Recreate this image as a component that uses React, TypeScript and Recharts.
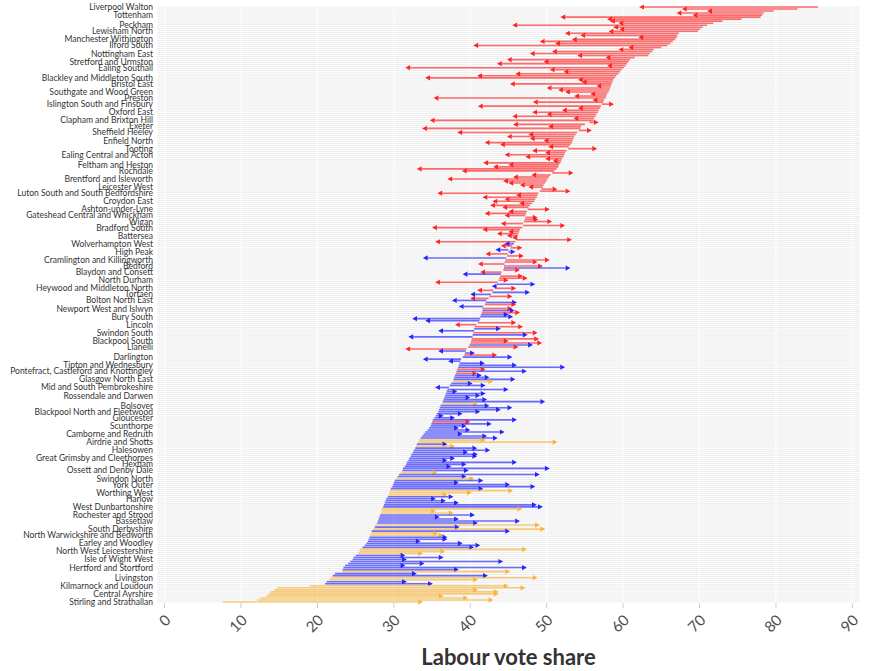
import React from 'react';
import { ComposedChart, Bar, XAxis, YAxis, CartesianGrid } from 'recharts';

// Labour vote share: previous (base) -> new (end) for each constituency row
const baseShare = [
  85.5, 82.8, 79.7, 78.4, 78.2, 78.0, 75.5, 73.0, 71.8, 71.0,
  70.4, 70.1, 69.8, 67.3, 67.1, 67.0, 66.8, 66.5, 66.2, 65.8,
  65.0, 64.0, 63.8, 63.5, 63.3, 61.5, 60.9, 60.7, 60.5, 60.3,
  60.1, 59.8, 59.6, 59.4, 59.1, 58.9, 58.7, 58.6, 58.5, 58.4,
  58.3, 58.2, 58.1, 57.9, 57.8, 57.7, 57.5, 57.4, 57.2, 57.1,
  57.0, 56.8, 56.7, 56.5, 56.4, 56.2, 56.1, 55.6, 55.0, 54.5,
  54.4, 54.2, 54.0, 53.8, 53.6, 53.5, 53.4, 53.3, 53.1, 52.9,
  52.8, 52.6, 52.4, 52.3, 52.2, 52.0, 51.9, 51.8, 51.6, 51.5,
  51.3, 51.0, 50.7, 50.5, 50.3, 50.1, 50.0, 49.8, 49.6, 49.5,
  49.3, 49.1, 48.9, 48.8, 48.7, 48.5, 48.4, 48.1, 47.8, 47.6,
  47.5, 47.4, 47.3, 47.2, 47.2, 47.1, 47.0, 46.9, 46.9, 46.8,
  46.5, 46.4, 46.3, 46.2, 46.1, 46.1, 45.9, 45.7, 45.5, 45.3,
  45.0, 45.0, 44.9, 44.8, 44.7, 44.6, 44.5, 44.5, 44.4, 44.4,
  44.3, 44.1, 44.0, 43.9, 43.8, 43.7, 43.6, 43.5, 43.3, 43.2,
  43.0, 42.9, 42.7, 42.5, 42.4, 42.1, 42.0, 41.9, 41.7, 41.6,
  41.6, 41.5, 41.4, 41.3, 41.3, 41.2, 41.0, 40.8, 40.6, 40.5,
  40.5, 40.4, 40.3, 40.3, 40.2, 40.1, 40.0, 39.9, 39.7, 39.5,
  39.4, 39.3, 39.2, 39.0, 38.8, 38.7, 38.6, 38.5, 38.4, 38.3,
  38.2, 38.1, 38.0, 37.9, 37.8, 37.7, 37.5, 37.3, 37.2, 37.0,
  36.9, 36.8, 36.7, 36.6, 36.5, 36.4, 36.3, 36.1, 36.0, 35.9,
  35.8, 35.6, 35.5, 35.3, 35.1, 35.0, 34.9, 34.8, 34.6, 34.4,
  34.1, 33.9, 33.7, 33.5, 33.3, 33.2, 33.0, 32.9, 32.8, 32.6,
  32.5, 32.3, 32.2, 32.0, 31.9, 31.7, 31.6, 31.4, 31.2, 31.1,
  30.9, 30.7, 30.5, 30.3, 30.1, 30.0, 29.9, 29.8, 29.6, 29.5,
  29.4, 29.3, 29.2, 29.0, 28.9, 28.8, 28.7, 28.6, 28.4, 28.4,
  28.3, 28.2, 28.1, 28.0, 27.9, 27.8, 27.6, 27.5, 27.3, 27.1,
  27.0, 26.9, 26.8, 26.7, 26.6, 26.4, 26.2, 25.9, 25.6, 25.5,
  25.3, 25.0, 24.7, 24.6, 24.3, 24.0, 23.6, 23.4, 23.3, 23.2,
  22.3, 22.0, 21.7, 21.5, 21.2, 21.0, 19.0, 14.7, 14.3, 13.9,
  13.6, 13.3, 12.5, 12.1, 7.6,
];

const newShare = [
  62.1, 67.7, 71.0, 67.0, 69.1, 51.8, 57.9, 58.3, 59.4, 45.5,
  58.7, 59.5, 58.1, 52.4, 54.4, 62.0, 53.3, 49.1, 51.1, 40.4,
  60.7, 59.4, 50.7, 47.8, 54.0, 57.7, 44.8, 49.6, 43.5, 57.9,
  31.5, 50.4, 52.2, 45.9, 40.9, 34.1, 54.1, 54.6, 45.2, 56.5,
  50.0, 51.5, 52.4, 55.7, 53.6, 35.2, 56.0, 48.2, 58.8, 41.0,
  54.1, 52.0, 48.1, 50.0, 45.5, 53.5, 34.7, 56.8, 45.6, 50.2,
  33.7, 55.9, 38.3, 47.6, 44.8, 47.8, 49.6, 41.9, 43.9, 50.2,
  56.6, 48.1, 49.8, 44.5, 47.2, 49.8, 50.8, 41.7, 45.0, 43.0,
  33.0, 38.9, 53.5, 48.0, 45.6, 37.0, 44.3, 45.0, 46.5, 47.6,
  51.4, 53.1, 35.7, 46.0, 41.6, 44.5, 42.9, 46.4, 42.6, 44.2,
  50.4, 45.0, 41.9, 44.5, 48.8, 48.9, 50.7, 44.0, 52.4, 35.0,
  41.6, 45.0, 43.5, 44.8, 45.5, 53.3, 35.4, 44.5, 44.0, 46.8,
  43.3, 45.9, 42.0, 47.0, 33.8, 50.4, 48.8, 41.0, 49.5, 53.1,
  46.5, 41.3, 39.0, 46.9, 47.5, 45.0, 35.4, 48.5, 42.8, 46.0,
  40.9, 47.8, 40.0, 45.5, 40.0, 37.6, 46.1, 46.0, 38.5, 45.5,
  45.8, 46.5, 45.0, 45.6, 32.4, 34.1, 46.0, 38.0, 46.9, 44.0,
  35.8, 48.8, 47.5, 31.9, 49.0, 45.0, 49.4, 48.2, 46.3, 31.5,
  35.8, 40.6, 43.5, 45.5, 33.8, 37.1, 41.9, 46.1, 52.4, 42.0,
  47.4, 40.9, 41.5, 42.5, 45.9, 43.0, 40.3, 42.0, 35.4, 45.0,
  38.3, 42.0, 41.3, 40.0, 42.2, 49.8, 41.0, 42.5, 45.5, 44.0,
  41.3, 39.0, 36.5, 38.0, 46.1, 40.0, 42.8, 39.5, 38.5, 40.0,
  44.5, 39.0, 42.2, 43.6, 42.0, 51.4, 37.0, 38.0, 40.9, 42.6,
  39.7, 41.0, 40.9, 38.0, 37.0, 46.1, 39.5, 37.5, 50.4, 39.8,
  35.7, 49.1, 39.5, 40.5, 41.7, 38.5, 45.2, 48.5, 41.7, 45.6,
  40.2, 37.0, 37.8, 35.5, 36.8, 38.5, 48.7, 49.5, 46.8, 35.5,
  37.8, 40.6, 36.0, 38.5, 46.5, 41.0, 49.1, 38.6, 49.8, 45.2,
  35.8, 36.5, 37.0, 37.0, 33.5, 39.0, 41.3, 40.5, 47.4, 36.7,
  33.8, 31.5, 36.5, 31.7, 44.3, 34.0, 31.5, 47.4, 38.5, 45.2,
  33.0, 42.3, 48.8, 41.0, 31.7, 35.1, 45.0, 47.2, 41.0, 43.7,
  43.7, 36.5, 39.7, 43.0, 33.8,
];

// R = red, B = blue, O = orange
const rowColour = (
  'RRRRRRRRRRRRRRRRRRRRRRRRRRRRRRRRRRRRRRRRRRRRRRRRRR' +
  'RRRRRRRRRRRRRRRRRRRRRRRRRRRRRRRRRRRRRRRRRRRRRRRRRR' +
  'RRRRRRRRRRRRRRRRRBRRBBRRBRRRRBRRBRRRRBBRRBBRRBBRBR' +
  'BRBBBBRRRBBRBBRRRBRRBBRBBBBBBRBRBBBOBBBBBBBBBBOBBB' +
  'BBBBBRBBBBBBBBOOBOBBBBBBBBBBBBOBBOBBBBBOOOBBBBBBOO' +
  'OBBBBBOBOBOOBBBBBBOOOBBBBBBBBOBBOOBBOOOOOOOOO'
).split('');

const tickLabels = [
  'Liverpool Walton', 'Tottenham', 'Peckham', 'Lewisham North', 'Manchester Withington',
  'Ilford South', 'Nottingham East', 'Stretford and Urmston', 'Ealing Southall',
  'Blackley and Middleton South', 'Bristol East', 'Southgate and Wood Green', 'Preston',
  'Islington South and Finsbury', 'Oxford East', 'Clapham and Brixton Hill', 'Exeter',
  'Sheffield Heeley', 'Enfield North', 'Tooting', 'Ealing Central and Acton',
  'Feltham and Heston', 'Rochdale', 'Brentford and Isleworth', 'Leicester West',
  'Luton South and South Bedfordshire', 'Croydon East', 'Ashton-under-Lyne',
  'Gateshead Central and Whickham', 'Wigan', 'Bradford South', 'Battersea',
  'Wolverhampton West', 'High Peak', 'Cramlington and Killingworth', 'Bedford',
  'Blaydon and Consett', 'North Durham', 'Heywood and Middleton North', 'Torfaen',
  'Bolton North East', 'Newport West and Islwyn', 'Bury South', 'Lincoln',
  'Swindon South', 'Blackpool South', 'Llanelli', 'Darlington', 'Tipton and Wednesbury',
  'Pontefract, Castleford and Knottingley', 'Glasgow North East',
  'Mid and South Pembrokeshire', 'Rossendale and Darwen', 'Bolsover',
  'Blackpool North and Fleetwood', 'Gloucester', 'Scunthorpe', 'Camborne and Redruth',
  'Airdrie and Shotts', 'Halesowen', 'Great Grimsby and Cleethorpes', 'Hexham',
  'Ossett and Denby Dale', 'Swindon North', 'York Outer', 'Worthing West', 'Harlow',
  'West Dunbartonshire', 'Rochester and Strood', 'Bassetlaw', 'South Derbyshire',
  'North Warwickshire and Bedworth', 'Earley and Woodley', 'North West Leicestershire',
  'Isle of Wight West', 'Hertford and Stortford', 'Livingston', 'Kilmarnock and Loudoun',
  'Central Ayrshire', 'Stirling and Strathallan',
];

const tickRows = [
  0, 4, 9, 12, 16, 19, 23, 27, 30, 35, 38, 42, 45, 48, 52, 56, 59, 62, 66, 70,
  73, 78, 81, 85, 89, 92, 96, 100, 103, 106, 109, 113, 117, 121, 125, 128, 131, 135, 139, 142,
  145, 149, 153, 157, 161, 165, 168, 173, 177, 180, 184, 188, 192, 197, 200, 203, 207, 211, 215, 219,
  223, 226, 229, 233, 236, 240, 243, 247, 251, 254, 258, 261, 265, 269, 273, 277, 282, 286, 290, 294,
];

const xTicks = [0, 10, 20, 30, 40, 50, 60, 70, 80, 90];

const COLOURS: Record<string, string> = { R: '#ff0d0d', B: '#0d0dff', O: '#f9ad2a' };

const rowName: Record<number, string> = {};
tickRows.forEach((r, i) => { rowName[r] = tickLabels[i]; });

const data = baseShare.map((b, i) => {
  const e = newShare[i];
  return {
    id: i,
    base: b,
    end: e,
    party: rowColour[i],
    range: [Math.min(b, e), Math.max(b, e)],
  };
});

const FONT = 'Lato, "Open Sans", sans-serif';

const ArrowShape = (props: any) => {
  const { x, y, width, height, payload } = props;
  if (x == null || y == null || !payload) return null;
  const cy = y + height / 2;
  const colour = COLOURS[payload.party];
  const right = payload.end >= payload.base;
  const x0 = right ? x : x + width;
  const x1 = right ? x + width : x;
  const dir = right ? 1 : -1;
  const ah = 4.8;
  const aw = 2.6;
  const back = x1 - dir * ah;
  return (
    <g>
      <line x1={x0} y1={cy} x2={back} y2={cy} stroke={colour} strokeOpacity={0.6} strokeWidth={1.6} />
      <polygon
        points={`${x1},${cy} ${back},${cy - aw} ${back},${cy + aw}`}
        fill={colour}
        fillOpacity={0.9}
      />
    </g>
  );
};

const YTick = (props: any) => {
  const { y, payload } = props;
  const name = rowName[payload.value];
  if (!name) return null;
  return (
    <text x={153} y={y} dy="0.35em" textAnchor="end" fontSize={8.5} fill="#333333" fontFamily={FONT}>
      {name}
    </text>
  );
};

const XTick = (props: any) => {
  const { x, y, payload } = props;
  return (
    <g transform={`translate(${x + 7},${y + 11})`}>
      <text x={0} y={0} textAnchor="end" transform="rotate(-45)" fontSize={15} fill="#4d4d4d" fontFamily={FONT}>
        {payload.value}
      </text>
    </g>
  );
};

export default function App() {
  return (
    <div style={{ position: 'absolute', left: 0, top: 0, width: 873, height: 671, background: '#ffffff' }}>
      <ComposedChart
        width={873}
        height={671}
        data={data}
        layout="vertical"
        margin={{ top: 6, right: 13, bottom: 0, left: 0 }}
        barCategoryGap={0}
        barGap={0}
      >
        <CartesianGrid
          fill="#ebebeb"
          stroke="#ffffff"
          horizontal={{ stroke: '#ffffff', strokeWidth: 0.6 }}
          vertical={{ stroke: '#ffffff', strokeWidth: 1.1 }}
        />
        <XAxis
          type="number"
          domain={[-1, 91]}
          ticks={xTicks}
          allowDataOverflow
          axisLine={false}
          tickLine={{ stroke: '#cccccc' }}
          tickSize={5}
          tickMargin={2}
          height={68}
          tick={<XTick />}
          label={{
            value: 'Labour vote share',
            position: 'insideBottom',
            offset: 6,
            style: { fontSize: 22, fontWeight: 700, fill: '#333333', fontFamily: FONT },
          }}
        />
        <YAxis
          type="category"
          dataKey="id"
          width={157}
          interval={0}
          axisLine={false}
          tickLine={false}
          tick={<YTick />}
        />
        <Bar dataKey="range" isAnimationActive={false} shape={<ArrowShape />} />
      </ComposedChart>
    </div>
  );
}
